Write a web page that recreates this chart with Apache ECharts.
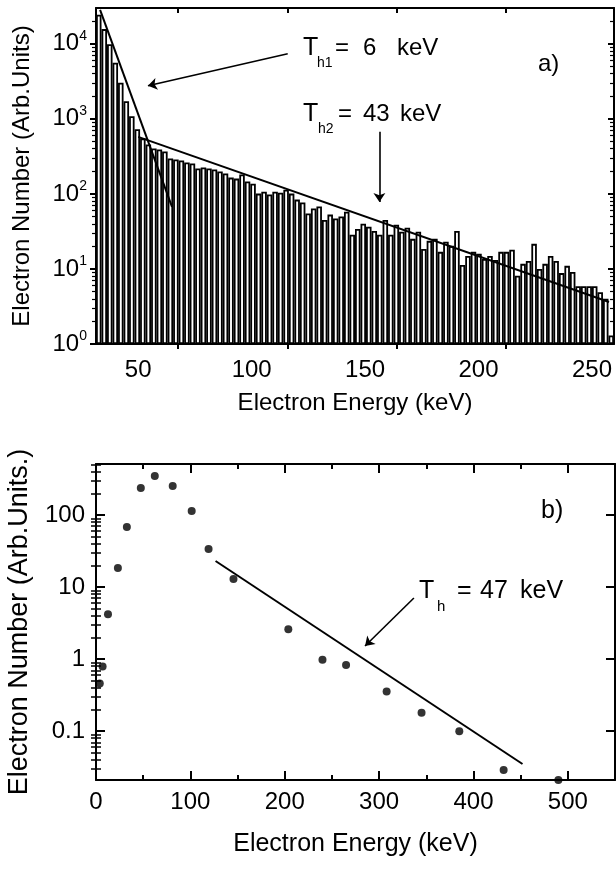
<!DOCTYPE html>
<html><head><meta charset="utf-8">
<script src="https://cdn.jsdelivr.net/npm/echarts@6/dist/echarts.min.js"></script>
<style>html,body{margin:0;padding:0;background:#fff}#c{width:616px;height:869px}</style>
</head><body><div id="c"></div>
<script>
// ---------- Panel a) histogram ----------
const binEnergy = [32.6,35.0,37.5,39.9,42.3,44.8,47.2,49.6,52.0,54.5,
  56.9,59.3,61.8,64.2,66.6,69.0,71.5,73.9,76.3,78.8,
  81.2,83.6,86.0,88.5,90.9,93.3,95.8,98.2,100.6,103.0,
  105.5,107.9,110.3,112.8,115.2,117.6,120.0,122.5,124.9,127.3,
  129.8,132.2,134.6,137.0,139.5,141.9,144.3,146.8,149.2,151.6,
  154.0,156.5,158.9,161.3,163.8,166.2,168.6,171.0,173.5,175.9,
  178.3,180.8,183.2,185.6,188.0,190.5,192.9,195.3,197.8,200.2,
  202.6,205.0,207.5,209.9,212.3,214.8,217.2,219.6,222.0,224.5,
  226.9,229.3,231.8,234.2,236.6,239.0,241.5,243.9,246.3,248.8,
  251.2,253.6,256.0,258.5];
const binCounts = [24400,15700,9880,5600,3030,1720,1084,726,550,457,
  404,392,368,297,288,279,262,255,218,225,
  218,212,199,187,165,160,181,146,137,101,
  107,98,107,104,114,101,84,77,55,64,
  68,45,53,47,50,58,28.5,34,40,36.5,
  32,28.5,45,28.5,38.8,31.3,35.4,25.2,31.3,18.5,
  23.7,25.2,16.9,23,20.3,32,11.3,14.9,16.9,15.9,
  13.6,14.9,13.2,16.9,16.9,18,8.1,11.7,12.8,21.6,
  10,11.7,14.9,12.8,8.8,11,9.1,5.9,5.9,5.9,
  5.9,4.9,4.0,1.3];
const fitTh1 = [[33.2, 28400], [64.9, 67.1]];
const fitTh2 = [[50.0, 575], [257.5, 3.63]];
const arrowTh1 = [[115.9, 7360], [54.3, 2754]];
const arrowTh2 = [[156.3, 671], [156.3, 78.2]];
const xLabelsA = [50, 100, 150, 200, 250];
const xTicksA = [67.5, 115.9, 163.8, 212.2];
const yMajorA = [1, 10, 100, 1000, 10000];
const yMinorA = [2,3,4,5,6,7,8,9,20,30,40,50,60,70,80,90,200,300,400,500,600,700,800,900,
  2000,3000,4000,5000,6000,7000,8000,9000,20000];

// ---------- Panel b) spectrum points ----------
const energyB = [4, 7, 12.7, 23.2, 32.7, 47.5, 62.3, 81.3, 101.4, 119.3, 145.7, 203.8, 240, 265, 308, 345, 385, 432, 490];
const numberB = [0.46, 0.79, 4.2, 18.4, 68, 237, 347, 253, 114, 33.7, 12.9, 2.6, 0.98, 0.83, 0.356, 0.18, 0.1, 0.029, 0.021];
const fitB = [[126.7, 23], [452, 0.035]];
const arrowB = [[336.9, 7.05], [285.1, 1.52]];
const xLabelsB = [0, 100, 200, 300, 400, 500];
const xMajorB = [100, 200, 300, 400, 500];
const xMinorB = [50, 150, 250, 350, 450];
const yMajorB = [0.1, 1, 10, 100];
const yMinorB = [0.03,0.04,0.05,0.06,0.07,0.08,0.09,0.2,0.3,0.4,0.5,0.6,0.7,0.8,0.9,
  2,3,4,5,6,7,8,9,20,30,40,50,60,70,80,90,200,300,400,500];

const FONT = '"Liberation Sans", Arial, Helvetica, sans-serif';
const AX = {color: '#000', width: 2};
const pointsB = energyB.map((e, i) => [e, numberB[i]]);

function xAx(o) {
  return Object.assign({
    type: 'value', splitLine: {show: false},
    axisLine: {show: true, onZero: false, lineStyle: AX},
    axisLabel: {show: false}
  }, o);
}
function yAx(o) {
  return Object.assign({
    type: 'log', logBase: 10, splitLine: {show: false},
    axisLine: {show: true, onZero: false, lineStyle: AX},
    axisLabel: {show: false}
  }, o);
}
function tick(inside, len, vals, w) {
  return {show: true, inside: inside, length: len, customValues: vals, lineStyle: {color: '#000', width: w || 1.5}};
}
function txt(s, x, y, size) {
  return {type: 'text', x: x, y: y, silent: true,
    style: {text: s, fontSize: size, fontFamily: FONT, fill: '#000', verticalAlign: 'middle', align: 'left'}};
}
function arrowML(a) {
  return {silent: true, symbol: ['none', 'arrow'], symbolSize: 9, label: {show: false},
    lineStyle: {color: '#000', width: 1.6, type: 'solid'}, emphasis: {disabled: true},
    data: a.map(p => [{coord: p[0]}, {coord: p[1]}])};
}

const chart = echarts.init(document.getElementById('c'), null, {renderer: 'canvas'});
chart.setOption({
  animation: false,
  backgroundColor: '#fff',
  textStyle: {fontFamily: FONT},
  grid: [
    {left: 96, top: 8, width: 518, height: 336, containLabel: false, outerBoundsMode: 'none'},
    {left: 96, top: 464, width: 519, height: 316, containLabel: false, outerBoundsMode: 'none'}
  ],
  xAxis: [
    {type: 'category', gridIndex: 0, data: binEnergy, show: false, boundaryGap: true},
    xAx({gridIndex: 0, min: 31.4, max: 259.7, position: 'bottom',
      axisTick: tick(false, 5, xTicksA, 2),
      axisLabel: {show: true, customValues: xLabelsA, fontSize: 24, color: '#000', margin: 14, fontFamily: FONT},
      name: 'Electron Energy (keV)', nameLocation: 'middle', nameGap: 47,
      nameTextStyle: {fontSize: 24, color: '#000', fontFamily: FONT}}),
    xAx({gridIndex: 0, min: 31.4, max: 259.7, position: 'top', axisTick: tick(true, 5, xTicksA, 2)}),
    xAx({gridIndex: 1, min: 0, max: 550, position: 'bottom',
      axisTick: tick(true, 9, xMajorB, 2),
      axisLabel: {show: true, customValues: xLabelsB, fontSize: 24, color: '#000', margin: 10, fontFamily: FONT},
      name: 'Electron Energy (keV)', nameLocation: 'middle', nameGap: 52,
      nameTextStyle: {fontSize: 25, color: '#000', fontFamily: FONT}}),
    xAx({gridIndex: 1, min: 0, max: 550, position: 'bottom', axisLine: {show: false}, axisTick: tick(true, 5, xMinorB, 2)}),
    xAx({gridIndex: 1, min: 0, max: 550, position: 'top', axisTick: tick(true, 9, xMajorB, 2)}),
    xAx({gridIndex: 1, min: 0, max: 550, position: 'top', axisLine: {show: false}, axisTick: tick(true, 5, xMinorB, 2)})
  ],
  yAxis: [
    yAx({gridIndex: 0, min: 1, max: 30000, position: 'left',
      axisTick: tick(false, 6, yMajorA, 2),
      axisLabel: {show: true, customValues: yMajorA, margin: 9, fontSize: 24, color: '#000', fontFamily: FONT,
        formatter: v => '10{s|' + Math.round(Math.log10(v)) + '}',
        rich: {s: {fontSize: 14, fontFamily: FONT, color: '#000', padding: [0, 0, 16, 0]}}},
      name: 'Electron Number (Arb.Units)', nameLocation: 'middle', nameGap: 62,
      nameTextStyle: {fontSize: 24, color: '#000', fontFamily: FONT}}),
    yAx({gridIndex: 0, min: 1, max: 30000, position: 'left', axisLine: {show: false}, axisTick: tick(false, 4, yMinorA, 1.2)}),
    yAx({gridIndex: 0, min: 1, max: 30000, position: 'right', axisTick: tick(true, 6, yMajorA, 2)}),
    yAx({gridIndex: 0, min: 1, max: 30000, position: 'right', axisLine: {show: false}, axisTick: tick(true, 4, yMinorA, 1.2)}),
    yAx({gridIndex: 1, min: 0.021, max: 510, position: 'left',
      axisTick: tick(true, 9, yMajorB, 2),
      axisLabel: {show: true, customValues: yMajorB, margin: 11, fontSize: 24, color: '#000', fontFamily: FONT},
      name: 'Electron Number (Arb.Units.)', nameLocation: 'middle', nameGap: 63,
      nameTextStyle: {fontSize: 27, color: '#000', fontFamily: FONT}}),
    yAx({gridIndex: 1, min: 0.021, max: 510, position: 'left', axisLine: {show: false}, axisTick: tick(true, 5, yMinorB, 1.5)}),
    yAx({gridIndex: 1, min: 0.021, max: 510, position: 'right', axisTick: tick(true, 9, yMajorB, 2)}),
    yAx({gridIndex: 1, min: 0.021, max: 510, position: 'right', axisLine: {show: false}, axisTick: tick(true, 5, yMinorB, 1.5)})
  ],
  series: [
    {type: 'bar', name: 'histogram', xAxisIndex: 0, yAxisIndex: 0, data: binCounts,
      barCategoryGap: '0%', barGap: '0%', silent: true,
      itemStyle: {color: '#fff', borderColor: '#000', borderWidth: 1.8}},
    {type: 'line', name: 'Th1 fit', xAxisIndex: 1, yAxisIndex: 0, data: fitTh1, symbol: 'none', silent: true,
      lineStyle: {color: '#000', width: 2}, markLine: arrowML([arrowTh1, arrowTh2])},
    {type: 'line', name: 'Th2 fit', xAxisIndex: 1, yAxisIndex: 0, data: fitTh2, symbol: 'none', silent: true,
      lineStyle: {color: '#000', width: 2}},
    {type: 'scatter', name: 'spectrum', xAxisIndex: 3, yAxisIndex: 4, data: pointsB, symbolSize: 8, silent: true,
      itemStyle: {color: '#000'}},
    {type: 'line', name: 'Th fit', xAxisIndex: 3, yAxisIndex: 4, data: fitB, symbol: 'none', silent: true,
      lineStyle: {color: '#000', width: 2}, markLine: arrowML([arrowB])}
  ],
  graphic: [
    txt('T', 303, 48, 25), txt('h1', 317, 63, 14), txt('=', 335, 48, 24), txt('6', 363, 48, 24), txt('keV', 397, 48, 24),
    txt('T', 303, 114, 25), txt('h2', 318, 129, 14), txt('=', 338, 114, 24), txt('43', 363, 114, 24), txt('keV', 400, 114, 24),
    txt('a)', 538, 64, 24),
    txt('T', 419, 591, 25), txt('h', 437, 607, 15), txt('=', 457, 591, 25), txt('47', 480, 591, 25), txt('keV', 520, 591, 25),
    txt('b)', 541, 511, 25)
  ]
});
</script>
</body></html>
